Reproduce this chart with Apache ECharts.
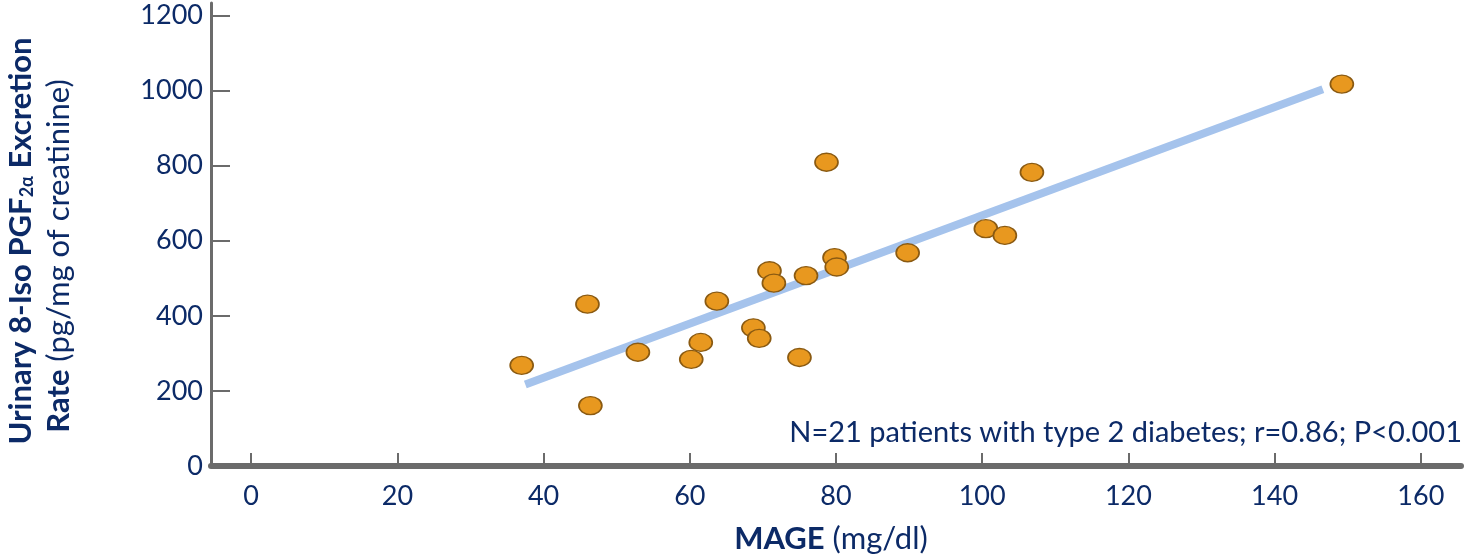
<!DOCTYPE html>
<html>
<head>
<meta charset="utf-8">
<script src="https://cdn.jsdelivr.net/npm/echarts@6/dist/echarts.min.js"></script>
<style>
  html, body { margin: 0; padding: 0; background: #ffffff; }
  #chart { width: 1464px; height: 557px; }
</style>
</head>
<body>
<div id="chart"></div>
<script>
// MAGE (mg/dl) for each patient
const mage = [37.0, 46.0, 46.4, 52.9, 60.2, 61.5, 63.7, 68.7, 69.5, 70.9, 71.5,
              75.0, 75.9, 78.7, 79.8, 80.1, 89.8, 100.5, 103.1, 106.8, 149.2];
// Urinary 8-iso PGF2α excretion rate (pg/mg of creatinine)
const isoPGF = [268, 431, 161, 303, 284, 329, 439, 368, 340, 520, 487,
                289, 507, 809, 555, 530, 568, 632, 614, 782, 1017];
// Regression line end points
const fitMage = [37.5, 146.6];
const fitIso = [217, 1003];
// Tick labels
const xTicks = [0, 20, 40, 60, 80, 100, 120, 140, 160];
const yTicks = [0, 200, 400, 600, 800, 1000, 1200];

const navy = '#0c2a67';
const axisGrey = '#6b6b6b';
const font = 'Lato';

const chart = echarts.init(document.getElementById('chart'), null, { renderer: 'canvas' });

const points = mage.map((m, i) => [m, isoPGF[i]]);
const fit = fitMage.map((m, i) => [m, fitIso[i]]);

chart.setOption({
  animation: false,
  backgroundColor: '#ffffff',
  grid: { left: 211, right: 3, top: 3, bottom: 91, containLabel: false },
  xAxis: {
    type: 'value',
    min: -5.5,
    max: 165.5,
    axisLine: { show: true, onZero: false, lineStyle: { color: axisGrey, width: 6 } },
    axisTick: { show: true, inside: true, length: 13, customValues: xTicks,
                lineStyle: { color: axisGrey, width: 2 } },
    axisLabel: { customValues: xTicks, margin: 17, fontSize: 27, color: navy, fontFamily: font,
                 formatter: v => String(v) },
    splitLine: { show: false }
  },
  yAxis: {
    type: 'value',
    min: 0,
    max: 1233,
    axisLine: { show: true, onZero: false, lineStyle: { color: axisGrey, width: 3 } },
    axisTick: { show: true, inside: true, length: 19, customValues: yTicks,
                lineStyle: { color: axisGrey, width: 2 } },
    axisLabel: { customValues: yTicks, margin: 8, fontSize: 27, color: navy, fontFamily: font,
                 formatter: v => String(v) },
    splitLine: { show: false }
  },
  series: [
    {
      type: 'line',
      data: fit,
      symbol: 'none',
      z: 1,
      lineStyle: { color: '#a5c3ec', width: 8, cap: 'butt' }
    },
    {
      type: 'scatter',
      data: points,
      symbol: 'circle',
      symbolSize: [23, 18],
      z: 3,
      itemStyle: { color: '#e8981f', borderColor: '#8a5a12', borderWidth: 1.5, opacity: 1 }
    }
  ],
  graphic: [
    {
      type: 'text',
      x: 17.5, y: 241,
      rotation: Math.PI / 2,
      style: {
        text: '{b|Urinary 8-Iso PGF}{s|2α}{b| Excretion}',
        align: 'center', verticalAlign: 'middle',
        rich: {
          b: { fontFamily: font, fontWeight: 'bold', fontSize: 31, fill: navy, lineHeight: 38, verticalAlign: 'bottom' },
          s: { fontFamily: font, fontWeight: 'bold', fontSize: 18, fill: navy, lineHeight: 12, verticalAlign: 'bottom' }
        }
      }
    },
    {
      type: 'text',
      x: 59, y: 256,
      rotation: Math.PI / 2,
      style: {
        text: '{b|Rate}{n| (pg/mg of creatinine)}',
        align: 'center', verticalAlign: 'middle',
        rich: {
          b: { fontFamily: font, fontWeight: 'bold', fontSize: 31, fill: navy },
          n: { fontFamily: font, fontSize: 31, fill: navy }
        }
      }
    },
    {
      type: 'text',
      x: 831, y: 538.5,
      style: {
        text: '{b|MAGE}{n| (mg/dl)}',
        align: 'center', verticalAlign: 'middle',
        rich: {
          b: { fontFamily: font, fontWeight: 'bold', fontSize: 31, fill: navy },
          n: { fontFamily: font, fontSize: 31, fill: navy }
        }
      }
    },
    {
      type: 'text',
      x: 1462, y: 433,
      style: {
        text: 'N=21 patients with type 2 diabetes; r=0.86; P<0.001',
        align: 'right', verticalAlign: 'middle',
        fontFamily: font, fontSize: 29, fill: navy
      }
    }
  ]
});
</script>
</body>
</html>
